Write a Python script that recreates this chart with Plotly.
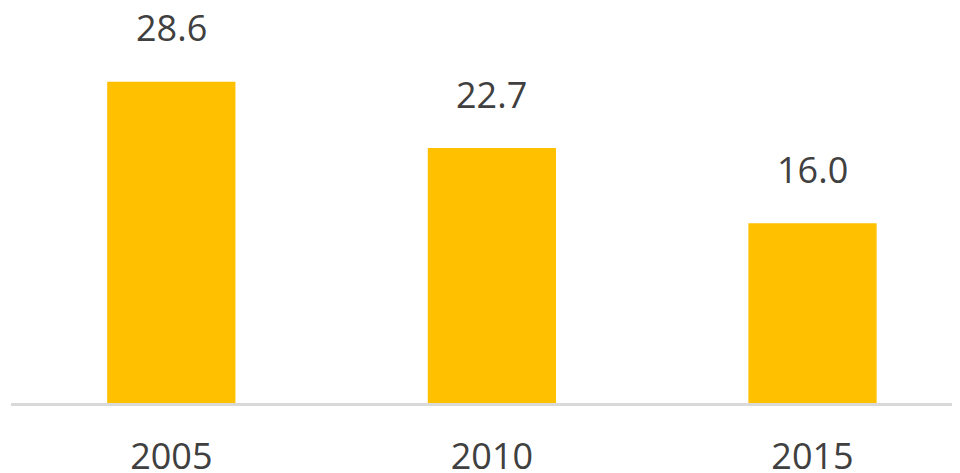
import plotly.graph_objects as go

years = ["2005", "2010", "2015"]
values = [28.6, 22.7, 16.0]
value_labels = ["28.6", "22.7", "16.0"]

fig = go.Figure()
fig.add_trace(go.Bar(
    x=years, y=values, marker=dict(color="#FFC000", line=dict(width=0)),
    width=0.4, hoverinfo="skip",
))
for i, (v, lab) in enumerate(zip(values, value_labels)):
    fig.add_annotation(x=i, y=v, text=lab, showarrow=False, yanchor="middle",
                       yshift=54, font=dict(family="Open Sans", size=36, color="#404040"))

fig.update_layout(
    width=952, height=465,
    margin=dict(l=3, r=0, t=0, b=70),
    paper_bgcolor="white", plot_bgcolor="white",
    showlegend=False,
    xaxis=dict(type="category", range=[-0.5, 2.46], showline=True, linecolor="#d9d9d9",
               linewidth=3, showgrid=False, ticks="", ticklabelstandoff=20, automargin=False,
               tickfont=dict(family="Open Sans", size=36, color="#404040")),
    yaxis=dict(range=[0, 35.17], visible=False, showgrid=False, zeroline=False, automargin=False),
)
fig.write_html("out.html")
